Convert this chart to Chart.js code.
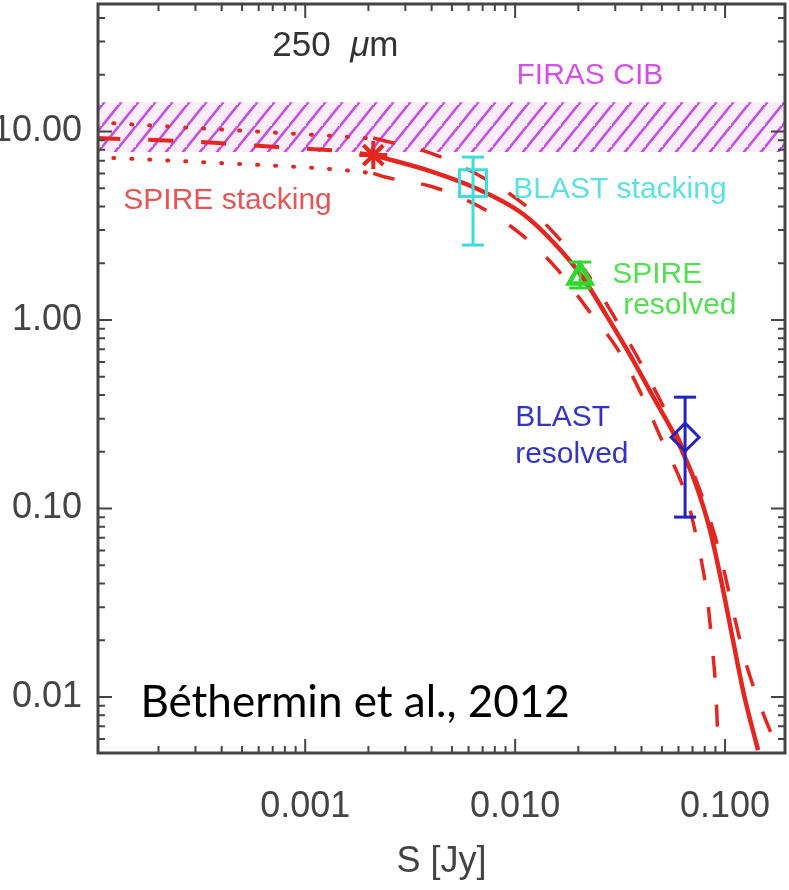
<!DOCTYPE html>
<html>
<head>
<meta charset="utf-8">
<script src="https://cdn.jsdelivr.net/npm/chart.js@4.4.0/dist/chart.umd.min.js"></script>
<style>
  html, body { margin: 0; padding: 0; background: #fff; }
  canvas { display: block; }
</style>
</head>
<body>
<canvas id="chart" width="789" height="890"></canvas>
<script>
// values: S in Jy, y = CIB resolved above S
const sRange = [1.03e-4, 0.193];
const yRange = [0.00505, 47.5];
const xTickVals = [0.001, 0.01, 0.1];
const yTickVals = [0.01, 0.1, 1, 10];

// FIRAS CIB band
const firasS  = [1e-4, 0.2];
const firasLo = [7.79, 7.79];
const firasHi = [14.3, 14.3];

// model below the stacking point (dashed centre, dotted errors)
const midLeftS = [0.0001, 0.000316, 0.000736, 0.00164, 0.00211];
const midLeftI = [9.24, 8.8, 8.27, 7.8, 7.5];
const upLeftS  = [0.0001, 0.000507, 0.00211];
const upLeftI  = [11.2, 10.1, 9.2];
const loLeftS  = [0.0001, 0.000316, 0.00164, 0.00211];
const loLeftI  = [7.32, 6.89, 6.2, 6.0];

// model above the stacking point (solid centre, dashed errors)
const midS = [0.00211, 0.00407, 0.0063, 0.0109, 0.0158, 0.0211, 0.0268, 0.0353, 0.0464, 0.059, 0.072, 0.0848, 0.0968, 0.109, 0.1232, 0.1436];
const midI = [7.5, 6.1, 5.08, 3.65, 2.47, 1.67, 1.089, 0.652, 0.376, 0.231, 0.138, 0.0769, 0.0393, 0.0201, 0.01025, 0.00523];
const upS  = [0.00211, 0.00407, 0.00681, 0.0108, 0.0158, 0.0228, 0.0299, 0.0394, 0.0518, 0.0667, 0.0812, 0.0957, 0.109, 0.1245, 0.1468, 0.1788];
const upI  = [9.24, 7.6, 5.81, 4.18, 2.79, 1.67, 1.025, 0.599, 0.333, 0.181, 0.1006, 0.0546, 0.0289, 0.0157, 0.00907, 0.00523];
const loS  = [0.00211, 0.0024, 0.00407, 0.00681, 0.0108, 0.016, 0.0223, 0.0316, 0.0407, 0.0507, 0.0645, 0.0736, 0.082, 0.0867, 0.0906, 0.0927];
const loI  = [6.0, 5.74, 5.08, 3.98, 2.82, 1.84, 1.13, 0.668, 0.386, 0.222, 0.121, 0.068, 0.0348, 0.0189, 0.0103, 0.00536];

// measurements
const ptNames = ['SPIRE stacking', 'BLAST stacking', 'SPIRE resolved', 'BLAST resolved'];
const ptS  = [0.00211, 0.0063, 0.0204, 0.0645];
const ptI  = [7.5, 5.33, 1.69, 0.239];
const ptLo = [null, 2.5, 1.48, 0.0901];
const ptHi = [null, 7.32, 2.03, 0.390];

const RED = '#e3261f';
const xy = (xs, ys) => xs.map((x, i) => ({ x, y: ys[i] }));

function hatch() {
  const w = 17, h = 21;
  const c = document.createElement('canvas');
  c.width = w; c.height = h;
  const g = c.getContext('2d');
  g.fillStyle = '#fcedfc';
  g.fillRect(0, 0, w, h);
  g.strokeStyle = '#c44ee6';
  g.lineWidth = 2.6;
  g.beginPath();
  g.moveTo(-w, 2 * h); g.lineTo(2 * w, -h);
  g.moveTo(-2 * w, 2 * h); g.lineTo(w, -h);
  g.moveTo(0, 3 * h); g.lineTo(3 * w, 0);
  g.stroke();
  return g.createPattern(c, 'repeat');
}

function curve(xs, ys, width, dash) {
  return {
    data: xy(xs, ys), showLine: true, pointRadius: 0, borderColor: RED,
    borderWidth: width, borderDash: dash, borderCapStyle: dash.length && dash[0] < 2 ? 'round' : 'butt',
    cubicInterpolationMode: 'monotone', fill: false, order: 5
  };
}

const markerStyle = [
  { style: 'star', color: RED, r: 14, w: 4 },
  { style: 'rect', color: '#3fdcdc', r: 19, w: 3 },
  { style: 'triangle', color: '#2fd82f', r: 13, w: 4.5 },
  { style: 'rectRot', color: '#2323c4', r: 14, w: 3 }
];

const datasets = [
  { data: xy(firasS, firasLo), showLine: true, pointRadius: 0, borderWidth: 0, fill: false, order: 20 },
  { data: xy(firasS, firasHi), showLine: true, pointRadius: 0, borderWidth: 0, fill: '-1', backgroundColor: hatch(), order: 19 },
  curve(midLeftS, midLeftI, 4, [25, 28]),
  curve(upLeftS, upLeftI, 4, [1, 17]),
  curve(loLeftS, loLeftI, 4, [1, 17]),
  curve(midS, midI, 4.5, []),
  curve(upS, upI, 3.5, [22, 27]),
  curve(loS, loI, 3.5, [22, 27])
];

ptNames.forEach((name, i) => {
  const m = markerStyle[i];
  if (ptLo[i] != null) {
    datasets.push({
      label: name + ' err', data: [{ x: ptS[i], y: ptHi[i] }, { x: ptS[i], y: ptLo[i] }],
      showLine: true, borderColor: m.color, borderWidth: 3,
      pointStyle: 'line', pointRadius: 11, pointBorderWidth: 3, pointBorderColor: m.color, order: 2
    });
  }
  datasets.push({
    label: name, data: [{ x: ptS[i], y: ptI[i] }], showLine: false,
    pointStyle: m.style, pointRadius: m.r, pointBorderWidth: m.w,
    pointBorderColor: m.color, pointBackgroundColor: 'rgba(0,0,0,0)', order: 1
  });
});

// text in the plot, placed in data coordinates
const notes = [
  { text: 'FIRAS CIB', x: 0.0227, y: 19.7, color: '#d24fe8', align: 'center', size: 30 },
  { text: 'SPIRE stacking', x: 0.000136, y: 4.28, color: '#e45656', align: 'left', size: 30 },
  { text: 'BLAST stacking', x: 0.00979, y: 4.9, color: '#5fe0e0', align: 'left', size: 30 },
  { text: 'SPIRE', x: 0.029, y: 1.73, color: '#55dd55', align: 'left', size: 30 },
  { text: 'resolved', x: 0.0327, y: 1.19, color: '#55dd55', align: 'left', size: 30 },
  { text: 'BLAST', x: 0.01, y: 0.302, color: '#3434c4', align: 'left', size: 30 },
  { text: 'resolved', x: 0.01, y: 0.192, color: '#3434c4', align: 'left', size: 30 }
];

const textPlugin = {
  id: 'notes',
  afterDatasetsDraw(chart) {
    const { ctx, scales: { x, y } } = chart;
    ctx.save();
    ctx.textBaseline = 'middle';
    notes.forEach(n => {
      ctx.font = n.size + 'px "Liberation Sans", Arial, sans-serif';
      ctx.fillStyle = n.color;
      ctx.textAlign = n.align;
      ctx.fillText(n.text, x.getPixelForValue(n.x), y.getPixelForValue(n.y));
    });
    // 250 μm with italic mu
    let px = x.getPixelForValue(0.000697);
    const py = y.getPixelForValue(28.4);
    ctx.fillStyle = '#333';
    ctx.textAlign = 'left';
    [['250  ', ''], ['\u03bc', 'italic '], ['m', '']].forEach(([t, st]) => {
      ctx.font = st + '35px "Liberation Sans", Arial, sans-serif';
      ctx.fillText(t, px, py);
      px += ctx.measureText(t).width;
    });
    // slide annotation
    ctx.font = '44px Lato, "Open Sans", sans-serif';
    ctx.fillStyle = '#000';
    ctx.textBaseline = 'alphabetic';
    ctx.fillText('B\u00e9thermin et al., 2012', x.getPixelForValue(0.000164), y.getPixelForValue(0.00783));
    ctx.restore();
  }
};

// box with inward major/minor ticks on all four sides
const framePlugin = {
  id: 'frame',
  afterDatasetsDraw(chart) {
    const { ctx, chartArea: a, scales: { x, y } } = chart;
    ctx.save();
    ctx.strokeStyle = '#444';
    ctx.lineWidth = 2;
    ctx.beginPath();
    for (let d = -5; d <= 2; d++) {
      for (let k = 1; k <= 9; k++) {
        const v = k * Math.pow(10, d);
        const len = k === 1 ? 14 : 7;
        if (v >= x.min && v <= x.max) {
          const p = x.getPixelForValue(v);
          ctx.moveTo(p, a.bottom); ctx.lineTo(p, a.bottom - len);
          ctx.moveTo(p, a.top); ctx.lineTo(p, a.top + len);
        }
        if (v >= y.min && v <= y.max) {
          const p = y.getPixelForValue(v);
          ctx.moveTo(a.left, p); ctx.lineTo(a.left + len, p);
          ctx.moveTo(a.right, p); ctx.lineTo(a.right - len, p);
        }
      }
    }
    ctx.stroke();
    ctx.lineWidth = 3;
    ctx.strokeRect(a.left, a.top, a.right - a.left, a.bottom - a.top);
    ctx.restore();
  }
};

const tickFont = { family: '"Liberation Sans", Arial, sans-serif', size: 36 };
const noPad = s => { s.paddingLeft = 0; s.paddingRight = 0; s.paddingTop = 0; s.paddingBottom = 0; };

new Chart(document.getElementById('chart'), {
  type: 'scatter',
  data: { datasets },
  options: {
    responsive: false,
    animation: false,
    devicePixelRatio: 1,
    layout: { autoPadding: false, padding: { top: 4, right: 4, left: 0, bottom: 0 } },
    plugins: { legend: { display: false }, tooltip: { enabled: false } },
    scales: {
      x: {
        type: 'logarithmic', position: 'bottom', min: sRange[0], max: sRange[1],
        grid: { display: false, drawTicks: false }, border: { display: false },
        afterBuildTicks: s => { s.ticks = xTickVals.map(v => ({ value: v })); },
        afterFit: s => { s.height = 137; noPad(s); },
        ticks: { font: tickFont, color: '#444', padding: 32, maxRotation: 0, autoSkip: false, callback: v => v.toFixed(3) },
        title: { display: true, text: 'S [Jy]', font: tickFont, color: '#444', padding: { top: 0, bottom: 6 } }
      },
      y: {
        type: 'logarithmic', position: 'left', min: yRange[0], max: yRange[1],
        grid: { display: false, drawTicks: false }, border: { display: false },
        afterBuildTicks: s => { s.ticks = yTickVals.map(v => ({ value: v })); },
        afterFit: s => { s.width = 98; noPad(s); },
        ticks: { font: tickFont, color: '#444', padding: 16, autoSkip: false, callback: v => v.toFixed(2) }
      }
    }
  },
  plugins: [framePlugin, textPlugin]
});
</script>
</body>
</html>
